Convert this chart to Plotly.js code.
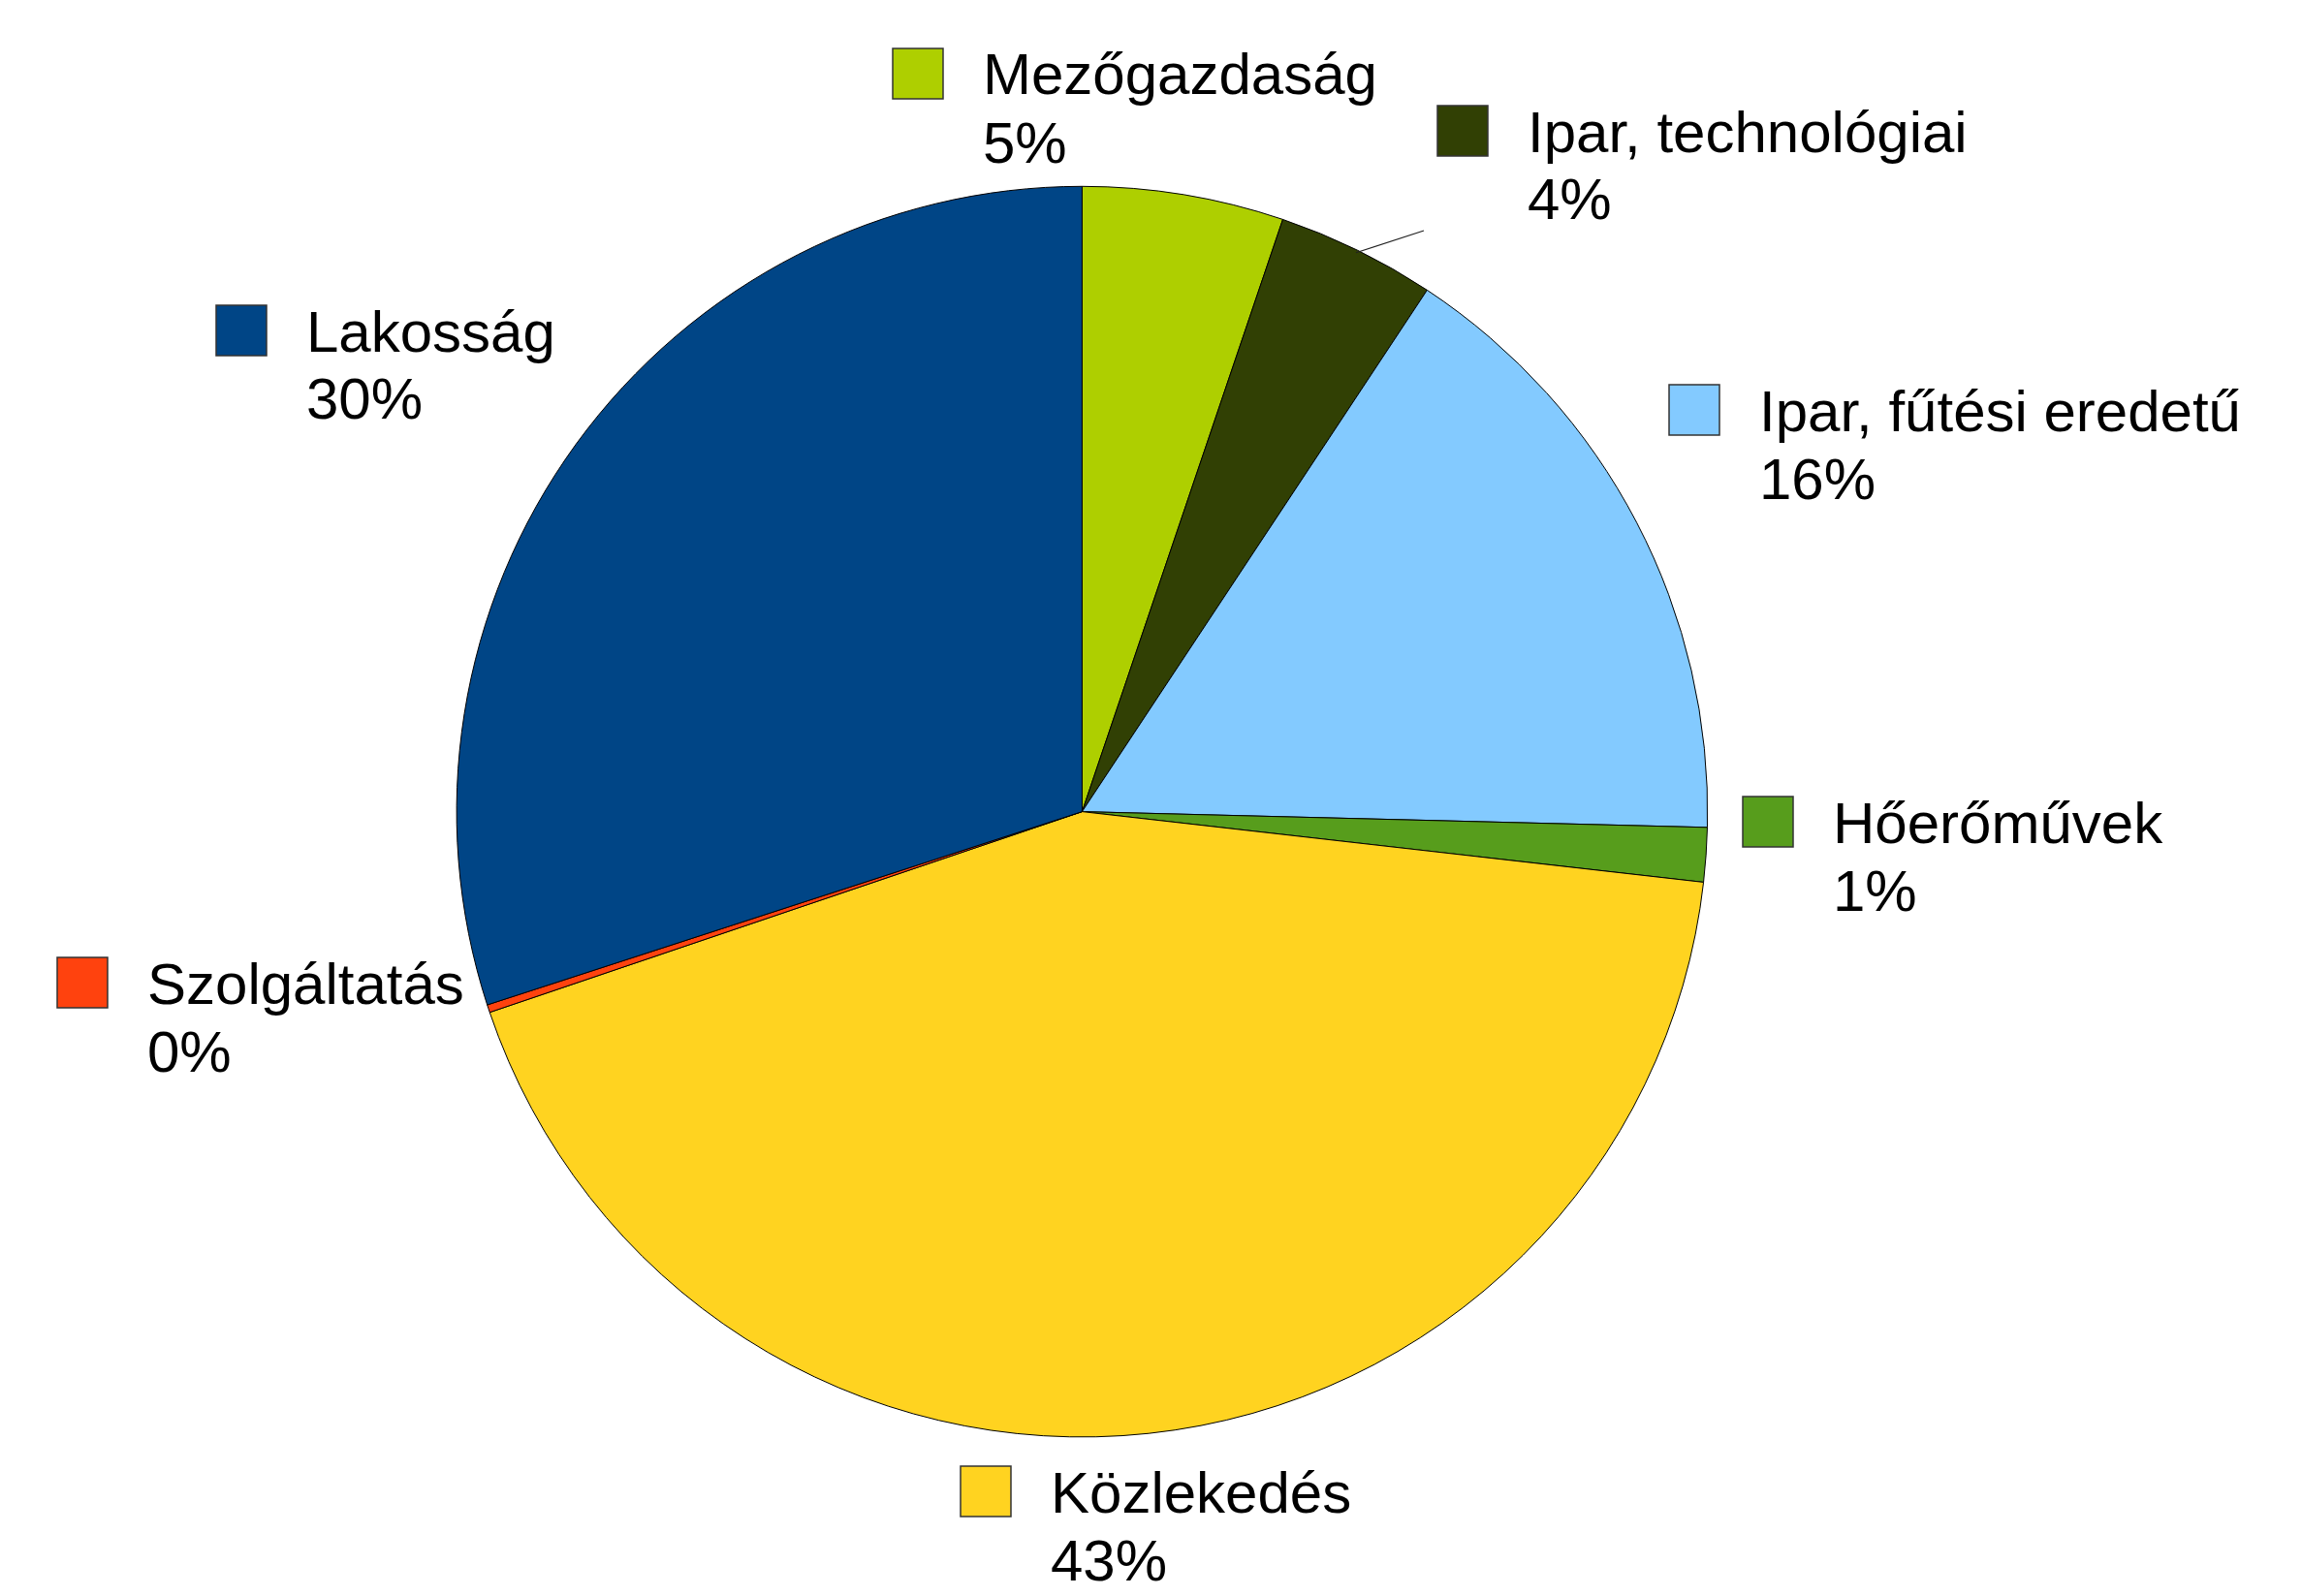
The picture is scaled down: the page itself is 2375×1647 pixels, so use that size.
<!DOCTYPE html>
<html><head><meta charset="utf-8">
<script src="https://cdn.plot.ly/plotly-3.0.1.min.js"></script>
<style>html,body{margin:0;padding:0;background:#fff}</style>
</head><body><div id="chart" style="width:2375px;height:1647px"></div>
<script>
// ---- data ----
const categories = ["Mezőgazdaság", "Ipar, technológiai", "Ipar, fűtési eredetű", "Hőerőművek", "Közlekedés", "Szolgáltatás", "Lakosság"];
const shares = [5.2, 4.1, 16.1, 1.4, 43.0, 0.2, 30.0];
const colors = ["#aecf00", "#314004", "#83caff", "#579d1c", "#ffd320", "#ff420e", "#004586"];

// ---- layout / style ----
const W = 2375, H = 1647;
const CX = 1116.4, CY = 837.6, R = 645.3;
const keyPos = [[921, 50], [1483, 109], [1722, 397], [1798, 822], [991, 1513], [59, 988], [223, 315]];
const KEY = 52, TEXT_DX = 91, NAME_DY = 27, PCT_DY = 70, FS = 60;
const leaderIdx = 1, leaderEnd = [1469, 238];

const px = x => x / W, py = y => 1 - y / H;
const total = shares.reduce((a, b) => a + b, 0);

const shapes = [], annotations = [];
categories.forEach((c, i) => {
  const [l, t] = keyPos[i];
  shapes.push({type: 'rect', xref: 'paper', yref: 'paper', x0: px(l), x1: px(l + KEY), y0: py(t + KEY), y1: py(t),
    fillcolor: colors[i], line: {color: '#333333', width: 1.5}});
  annotations.push({xref: 'paper', yref: 'paper', x: px(l + TEXT_DX), y: py(t + NAME_DY), xanchor: 'left', yanchor: 'middle',
    text: c, showarrow: false, font: {family: 'Liberation Sans, Arial, sans-serif', size: FS, color: '#000'}});
  annotations.push({xref: 'paper', yref: 'paper', x: px(l + TEXT_DX), y: py(t + NAME_DY + PCT_DY), xanchor: 'left', yanchor: 'middle',
    text: Math.round(shares[i] / total * 100) + '%', showarrow: false, font: {family: 'Liberation Sans, Arial, sans-serif', size: FS, color: '#000'}});
});

// leader line from the middle of the small slice
let cum = 0;
for (let i = 0; i < leaderIdx; i++) cum += shares[i];
const mid = (cum + shares[leaderIdx] / 2) / total * 2 * Math.PI;
const sx = CX + (R - 3) * Math.sin(mid), sy = CY - (R - 3) * Math.cos(mid);
shapes.push({type: 'line', xref: 'paper', yref: 'paper', x0: px(sx), y0: py(sy), x1: px(leaderEnd[0]), y1: py(leaderEnd[1]),
  line: {color: '#222222', width: 1.2}});

const trace = {
  type: 'pie', values: shares, labels: categories, sort: false, direction: 'clockwise', rotation: 0,
  textinfo: 'none', hoverinfo: 'label+percent',
  marker: {colors: colors, line: {color: '#000000', width: 1}},
  domain: {x: [px(CX - R), px(CX + R)], y: [py(CY + R), py(CY - R)]},
  showlegend: false
};

Plotly.newPlot('chart', [trace], {
  width: W, height: H, margin: {l: 0, r: 0, t: 0, b: 0},
  paper_bgcolor: '#ffffff', plot_bgcolor: '#ffffff', showlegend: false,
  shapes: shapes, annotations: annotations
}, {displayModeBar: false, staticPlot: true});
</script></body></html>
